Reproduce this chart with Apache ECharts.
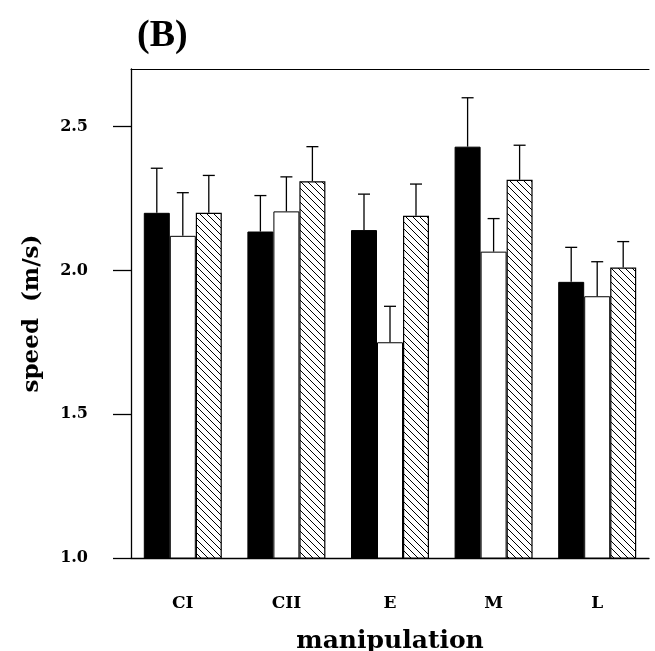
<!DOCTYPE html>
<html>
<head>
    <meta charset="utf-8">
    <title>(B) speed by manipulation</title>
    <script src="https://cdn.jsdelivr.net/npm/echarts@6/dist/echarts.min.js"></script>
</head>
<body style="margin:0;background:#fff;overflow:hidden;">
    <div id="main" style="width:655px;height:651px;"></div>
    <script>
        // data
        var categories = ['CI', 'CII', 'E', 'M', 'L'];
        var blackMeans = [2.20, 2.135, 2.14, 2.43, 1.96];
        var blackErr = [0.155, 0.125, 0.125, 0.17, 0.12];
        var whiteMeans = [2.12, 2.205, 1.75, 2.065, 1.91];
        var whiteErr = [0.15, 0.12, 0.125, 0.115, 0.12];
        var hatchMeans = [2.20, 2.31, 2.19, 2.315, 2.01];
        var hatchErr = [0.13, 0.12, 0.11, 0.12, 0.09];
        var yTicks = [1.0, 1.5, 2.0, 2.5];

        var serif = '"Liberation Serif", "DejaVu Serif", serif';
        var wide = '"DejaVu Serif", serif';
        var BAR_W = 26;

        // hatch pattern (\\\)
        var pat = document.createElement('canvas');
        pat.width = 7; pat.height = 7;
        var ctx = pat.getContext('2d');
        ctx.fillStyle = '#fff';
        ctx.fillRect(0, 0, 7, 7);
        ctx.strokeStyle = '#000';
        ctx.lineWidth = 1;
        ctx.beginPath();
        ctx.moveTo(-1, -1); ctx.lineTo(8, 8);
        ctx.moveTo(-1, 6); ctx.lineTo(1, 8);
        ctx.moveTo(6, -1); ctx.lineTo(8, 1);
        ctx.stroke();

        function errSeries(means, errs, offset) {
            var d = means.map(function (m, i) { return [i, m, m + errs[i]]; });
            return {
                type: 'custom',
                silent: true,
                z: 5,
                data: d,
                renderItem: function (params, api) {
                    var lo = api.coord([api.value(0), api.value(1)]);
                    var hi = api.coord([api.value(0), api.value(2)]);
                    var x = lo[0] + offset;
                    return {
                        type: 'group',
                        children: [
                            { type: 'line', shape: { x1: x, y1: lo[1], x2: x, y2: hi[1] }, style: { stroke: '#000', lineWidth: 1.3 } },
                            { type: 'line', shape: { x1: x - 6, y1: hi[1], x2: x + 6, y2: hi[1] }, style: { stroke: '#000', lineWidth: 1.3 } }
                        ]
                    };
                }
            };
        }

        var myChart = echarts.init(document.getElementById('main'));

        var option = {
            backgroundColor: '#fff',
            animation: false,
            title: {
                text: '(B)',
                left: 132,
                top: 12,
                textStyle: { fontFamily: serif, fontWeight: 'bold', fontSize: 38, color: '#000' }
            },
            grid: { left: 131, right: 6, top: 69, bottom: 93, outerBoundsMode: 'none' },
            xAxis: [{
                type: 'category',
                data: categories,
                name: 'manipulation',
                nameLocation: 'middle',
                nameGap: 71,
                nameTextStyle: { fontFamily: wide, fontWeight: 'bold', fontSize: 25, color: '#000' },
                axisLine: { lineStyle: { color: '#000', width: 1.3 } },
                axisTick: { show: false },
                axisLabel: { margin: 37, fontFamily: wide, fontWeight: 'bold', fontSize: 17, color: '#000' }
            }, {
                type: 'category',
                position: 'top',
                data: categories,
                axisLine: { show: true, lineStyle: { color: '#000', width: 1 } },
                axisTick: { show: false },
                axisLabel: { show: false }
            }],
            yAxis: {
                type: 'value',
                min: 1.0,
                max: 2.7,
                interval: 0.5,
                name: 'speed  (m/s)',
                nameLocation: 'middle',
                nameGap: 87,
                nameTextStyle: { fontFamily: wide, fontWeight: 'bold', fontSize: 23, color: '#000' },
                axisLine: { show: true, lineStyle: { color: '#000', width: 1.3 } },
                axisTick: { show: true, inside: false, length: 18, lineStyle: { color: '#000', width: 1.3 }, customValues: yTicks },
                axisLabel: {
                    margin: 43, fontFamily: wide, fontWeight: 'bold', fontSize: 16, color: '#000',
                    customValues: yTicks,
                    formatter: function (v) { return v.toFixed(1); }
                },
                splitLine: { show: false }
            },
            series: [{
                name: 'black',
                type: 'bar',
                barWidth: BAR_W,
                barGap: '0%',
                data: blackMeans,
                itemStyle: { color: '#000', borderColor: '#000', borderWidth: 1 }
            }, {
                name: 'white',
                type: 'bar',
                barWidth: BAR_W,
                barGap: '0%',
                data: whiteMeans,
                itemStyle: { color: '#fff', borderColor: '#000', borderWidth: 1 }
            }, {
                name: 'hatched',
                type: 'bar',
                barWidth: BAR_W,
                barGap: '0%',
                data: hatchMeans,
                itemStyle: { color: { image: pat, repeat: 'repeat' }, borderColor: '#000', borderWidth: 1.2 }
            },
            errSeries(blackMeans, blackErr, -BAR_W),
            errSeries(whiteMeans, whiteErr, 0),
            errSeries(hatchMeans, hatchErr, BAR_W)
            ]
        };

        myChart.setOption(option);
    </script>
</body>
</html>
